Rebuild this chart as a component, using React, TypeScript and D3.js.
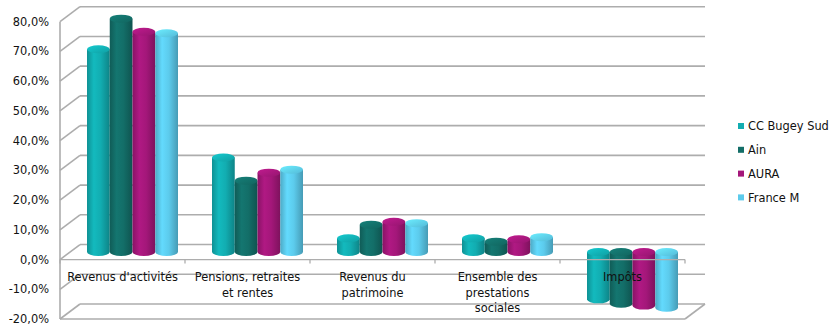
import React from "react";
import * as d3 from "d3";

// categories (line breaks as in the original labels)
const categories = [
  "Revenus d'activités",
  "Pensions, retraites\net rentes",
  "Revenus du\npatrimoine",
  "Ensemble des\nprestations\nsociales",
  "Impôts",
];
const seriesNames = ["CC Bugey Sud", "Ain", "AURA", "France M"];
const seriesColors = ["#12adb1", "#136e68", "#a4177a", "#5ccbec"];

// values in %
const ccBugeySud = [68.2, 31.8, 4.6, 4.6, -15.9];
const ain = [78.5, 24.0, 9.2, 3.5, -17.4];
const aura = [74.1, 26.7, 10.2, 4.3, -18.0];
const franceM = [73.6, 27.7, 9.7, 5.0, -18.7];
const seriesValues = [ccBugeySud, ain, aura, franceM];

const yTicks = [-20, -10, 0, 10, 20, 30, 40, 50, 60, 70, 80];

const W = 831, H = 331;
const left = 60, right = 685;
const depthX = 20, depthY = -15; // back wall offset
const barDepth = 0.5; // bars sit half way into the depth
const ry = 4;

const fr = d3.formatLocale({ decimal: ",", thousands: " ", grouping: [3], currency: ["", "€"], minus: "-" });
const fmt = (v: number) => fr.format(".1f")(v) + "%";

const App: React.FC = () => {
  const y = d3.scaleLinear().domain([-20, 80]).range([319, 21.7]);
  const x = d3.scaleBand<string>().domain(categories).range([left, right]);
  const inner = d3.scaleBand<string>().domain(seriesNames).range([17, x.bandwidth() - 17]);

  const bx = depthX * barDepth, by = depthY * barDepth;
  const grid = "#adadad";

  const bars: React.ReactNode[] = [];
  categories.forEach((c, ci) => {
    seriesNames.forEach((s, si) => {
      const v = seriesValues[si][ci];
      const x0 = (x(c) as number) + (inner(s) as number) + bx;
      const w = inner.bandwidth();
      const rx = w / 2;
      const yv = y(v) + by;
      const y0 = y(0) + by;
      const yTop = Math.min(yv, y0);
      const yBot = Math.max(yv, y0);
      const body = `M${x0},${yTop} L${x0},${yBot} A${rx},${ry} 0 0 0 ${x0 + w},${yBot} L${x0 + w},${yTop} Z`;
      bars.push(
        <g key={c + s}>
          <path d={body} fill={`url(#grad${si})`} />
          <ellipse cx={x0 + rx} cy={yTop} rx={rx} ry={ry} fill={`url(#top${si})`} />
        </g>
      );
    });
  });

  return (
    <div style={{ position: "absolute", left: 0, top: 0 }}>
      <svg width={W} height={H} style={{ display: "block", background: "#fff" }} fontFamily="DejaVu Sans" fontSize={11.4}>
        <defs>
          {seriesColors.map((col, i) => {
            const c = d3.color(col)!;
            return (
              <linearGradient key={i} id={`grad${i}`} x1="0" x2="1" y1="0" y2="0">
                <stop offset="0%" stopColor={c.darker(0.5).formatHex()} />
                <stop offset="30%" stopColor={c.brighter(0.2).formatHex()} />
                <stop offset="60%" stopColor={col} />
                <stop offset="100%" stopColor={c.darker(0.75).formatHex()} />
              </linearGradient>
            );
          })}
          {seriesColors.map((col, i) => {
            const c = d3.color(col)!;
            return (
              <linearGradient key={i} id={`top${i}`} x1="0" x2="1" y1="0" y2="1">
                <stop offset="0%" stopColor={c.brighter(0.45).formatHex()} />
                <stop offset="100%" stopColor={c.darker(0.25).formatHex()} />
              </linearGradient>
            );
          })}
        </defs>

        {/* back wall gridlines + side wall diagonals */}
        <g stroke={grid} strokeWidth={1.6} fill="none">
          {yTicks.map((t) => (
            <g key={t}>
              <line x1={left + depthX} x2={right + depthX} y1={y(t) + depthY} y2={y(t) + depthY} />
              <line x1={left} x2={left + depthX} y1={y(t)} y2={y(t) + depthY} />
            </g>
          ))}
          <line x1={left} x2={left} y1={y(80)} y2={y(-20)} />
          <line x1={left} x2={right} y1={y(-20)} y2={y(-20)} />
          <line x1={right} x2={right + depthX} y1={y(-20)} y2={y(-20) + depthY} />
        </g>

        {bars}

        {/* category axis at 0 */}
        <g stroke={grid} strokeWidth={1.3}>
          <line x1={left} x2={right} y1={y(0)} y2={y(0)} />
          {categories.map((c) => (
            <line key={c} x1={x(c) as number} x2={x(c) as number} y1={y(0)} y2={y(0) + 4} />
          ))}
          <line x1={right} x2={right} y1={y(0)} y2={y(0) + 4} />
        </g>

        {/* y tick labels */}
        <g fill="#111" textAnchor="end">
          {yTicks.map((t) => (
            <text key={t} x={49} y={y(t) + 4}>{fmt(t)}</text>
          ))}
        </g>

        {/* category labels */}
        <g fill="#111" textAnchor="middle">
          {categories.map((c) => (
            <text key={c} x={(x(c) as number) + x.bandwidth() / 2} y={281}>
              {c.split("\n").map((l, i) => (
                <tspan key={i} x={(x(c) as number) + x.bandwidth() / 2} dy={i === 0 ? 0 : 15.5}>{l}</tspan>
              ))}
            </text>
          ))}
        </g>

        {/* legend */}
        <g>
          {seriesNames.map((s, i) => (
            <g key={s} transform={`translate(738,${126 + i * 23.8})`}>
              <rect x={0} y={-3} width={6} height={6} fill={seriesColors[i]} />
              <text x={10} y={4.2} fill="#111">{s}</text>
            </g>
          ))}
        </g>
      </svg>
    </div>
  );
};

export default App;
